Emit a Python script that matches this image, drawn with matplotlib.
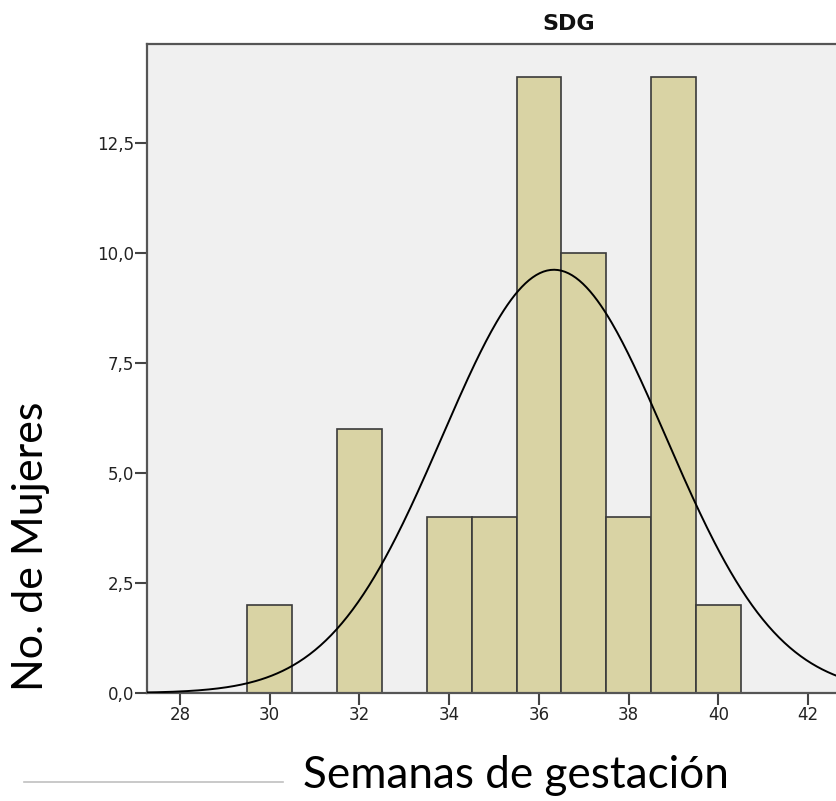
import numpy as np
import matplotlib.pyplot as plt

# Semanas de gestación (centro de cada barra) y número de mujeres
weeks = [30, 32, 34, 35, 36, 37, 38, 39, 40]
counts = [2, 6, 4, 4, 14, 10, 4, 14, 2]
x_ticks = [28, 30, 32, 34, 36, 38, 40, 42]
y_ticks = [0.0, 2.5, 5.0, 7.5, 10.0, 12.5]

# normal curve fitted to the histogram data
vals = np.repeat(weeks, counts)
n = len(vals)
mu = vals.mean()
sd = vals.std(ddof=1)

fig = plt.figure(figsize=(8.37, 8.01), dpi=100)
# the axes runs past the right edge, like the cropped SPSS output
ax = fig.add_axes([147 / 837, 108 / 801, (990 - 147) / 837, 649 / 801])
ax.set_facecolor('#f0f0f0')

ax.bar(weeks, counts, width=1.0, color='#d9d3a4', edgecolor='#3a3a3a',
       linewidth=1.2, zorder=2)

xs = np.linspace(27.0, 47.0, 500)
ys = n * 1.0 * np.exp(-0.5 * ((xs - mu) / sd) ** 2) / (sd * np.sqrt(2 * np.pi))
ax.plot(xs, ys, color='black', linewidth=1.4, zorder=3)

ax.set_xlim(27.265, 46.05)
ax.set_ylim(0, 14.75)
ax.set_xticks(x_ticks)
ax.set_xticklabels([str(t) for t in x_ticks])
ax.set_yticks(y_ticks)
ax.set_yticklabels([f"{t:.1f}".replace('.', ',') for t in y_ticks])
ax.tick_params(axis='both', length=8.5, width=1.5, color='#444444',
               labelsize=12, labelcolor='#222222')
ax.tick_params(axis='x', pad=1)
ax.tick_params(axis='y', pad=1)

for s in ax.spines.values():
    s.set_color('#555555')
    s.set_linewidth(1.6)

ax.set_title('SDG', fontsize=16, fontweight='bold', color='#111111', pad=10)

fig.text(31 / 837, 1 - 546 / 801, 'No. de Mujeres', rotation=90,
         ha='center', va='center', fontsize=31, family='Lato', color='black')
fig.text(516 / 837, 1 - 776 / 801, 'Semanas de gestación',
         ha='center', va='center', fontsize=31.7, family='Lato', color='black')

# thin grey rule at the bottom left
fig.add_artist(plt.Line2D([24 / 837, 283 / 837], [1 - 782 / 801, 1 - 782 / 801],
                          color='#c0c0c0', linewidth=1.2))

fig.savefig('out.png', dpi=100)
